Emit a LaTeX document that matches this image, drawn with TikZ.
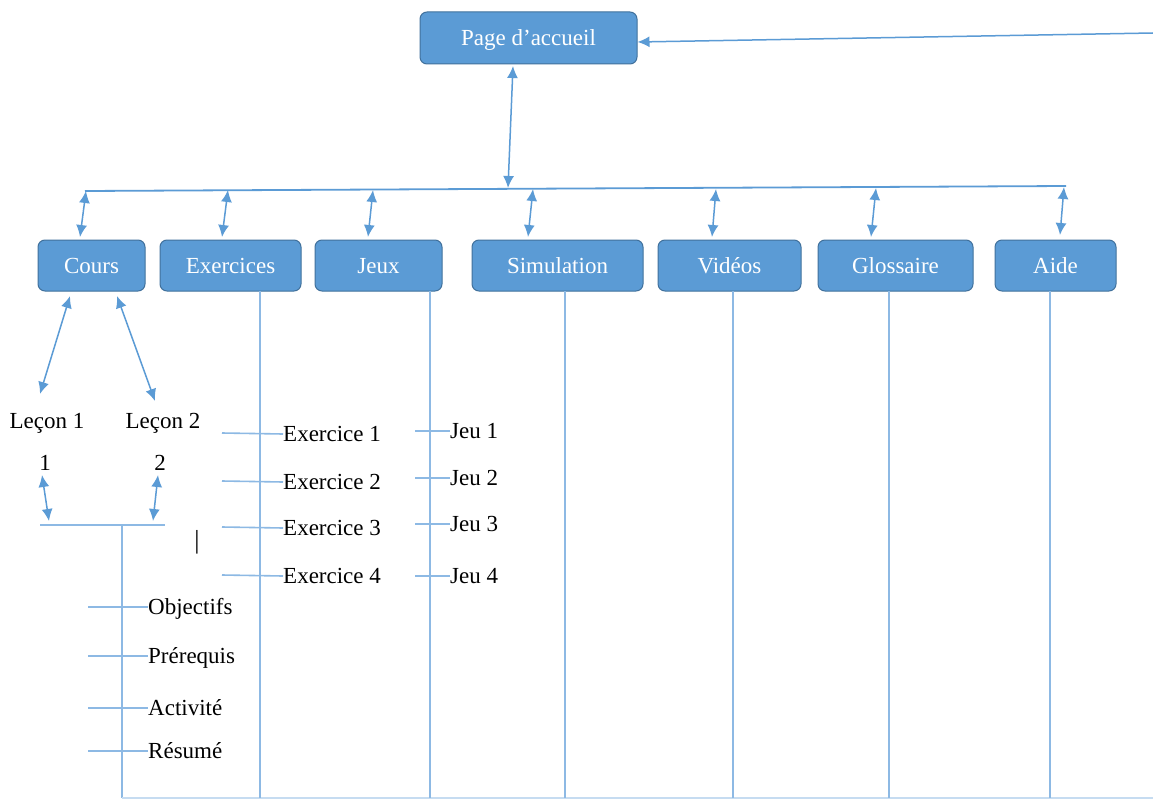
\documentclass[tikz,border=0pt]{standalone}
\usepackage{fontspec}
\setmainfont{Liberation Serif}
\usetikzlibrary{arrows.meta}
\definecolor{boxfill}{HTML}{5B9BD5}
\definecolor{boxedge}{HTML}{41719C}
\definecolor{wire}{HTML}{5B9BD5}
\definecolor{stem}{HTML}{8DB9E4}
\tikzset{
  menubox/.style={draw=boxedge, line width=1pt, fill=boxfill, rounded corners=7pt,
    text=white, font=\fontsize{23}{27}\selectfont, inner sep=0pt, minimum height=51pt,
    text height=19pt, text depth=4pt},
  itemtext/.style={font=\fontsize{23}{27}\selectfont, inner sep=0pt, text=black,
    text height=19pt, text depth=4pt},
  link/.style={draw=wire, line width=1.5pt, {Latex[length=12pt,width=11pt]}-{Latex[length=12pt,width=11pt]}},
  feed/.style={draw=wire, line width=1.5pt, -{Latex[length=12pt,width=11pt]}},
  busline/.style={draw=wire, line width=1.8pt},
  stemline/.style={draw=stem, line width=1.6pt},
}
\begin{document}
\begin{tikzpicture}[x=1pt,y=-1pt]
\useasboundingbox[fill=white] (0,0) rectangle (1153,800);

% home page and menu entries
\node[menubox, minimum width=217pt, minimum height=52pt] (home) at (528.5,38) {Page d’accueil};
\node[menubox, minimum width=107pt] (cours) at (91.5,265.5) {Cours};
\node[menubox, minimum width=141pt] (exo)   at (230.5,265.5) {Exercices};
\node[menubox, minimum width=127pt] (jeux)  at (378.5,265.5) {Jeux};
\node[menubox, minimum width=171pt] (simu)  at (557.5,265.5) {Simulation};
\node[menubox, minimum width=143pt] (video) at (729.5,265.5) {Vidéos};
\node[menubox, minimum width=155pt] (gloss) at (895.5,265.5) {Glossaire};
\node[menubox, minimum width=121pt] (aide)  at (1055.5,265.5) {Aide};

% return link into the home page
\coordinate (back) at (1153,33);
\draw[feed] (back) -- ([yshift=-4pt]home.east);

% distribution bus
\coordinate (busL) at (85,191);
\coordinate (busR) at (1066,186);
\draw[busline] (busL) -- (busR);
\coordinate (hTop) at (513,66);
\coordinate (hBus) at (508,188);
\draw[link] (hTop) -- (hBus);

% bus to each menu entry
\foreach \tx/\ty/\bx/\by/\n in {86/191/80/237/a, 228/190/222/237/b, 373/190/368/237/c,
    533/189/528/237/d, 716/189/712/237/e, 876/188/871/237/f, 1064/187/1060/235/g}{
  \coordinate (t\n) at (\tx,\ty);
  \coordinate (u\n) at (\bx,\by);
  \draw[link] (t\n) -- (u\n);
}

% lessons under Cours
\coordinate (cA) at (70,296);
\coordinate (cB) at (117,296);
\node[itemtext] (lec1) at (47,421) {Leçon 1};
\node[itemtext] (lec2) at (163,421) {Leçon 2};
\coordinate (l1) at (40,394);
\coordinate (l2) at (155,401);
\draw[link] (cA) -- (l1);
\draw[link] (cB) -- (l2);
\node[itemtext] (n1) at (45,463) {1};
\node[itemtext] (n2) at (160,463) {2};
\coordinate (m1t) at (42,475);
\coordinate (m1b) at (49,521);
\coordinate (m2t) at (158,475);
\coordinate (m2b) at (153,521);
\draw[link] (m1t) -- (m1b);
\draw[link] (m2t) -- (m2b);
\coordinate (jL) at (40,525);
\coordinate (jR) at (165,525);
\draw[stemline] (jL) -- (jR);
\coordinate (jM) at (122,525);
\coordinate (bot0) at (122,798);
\coordinate (botR) at (1153,798);
\draw[stemline] (jM) -- (bot0);
\draw[stem!50, line width=1.2pt] (bot0) -- (botR);

\node[font=\fontsize{26}{28}\selectfont, inner sep=0pt] (bar) at (197,542) {|};

% lesson sections
\foreach \y/\t/\n in {607/Objectifs/o1, 656/Prérequis/o2, 708/Activité/o3, 751/Résumé/o4}{
  \node[itemtext, anchor=west] (\n) at (148,\y) {\t};
  \coordinate (\n s) at (88,\y);
  \draw[stemline] (\n s) -- (\n.west);
}

% vertical stems from each menu entry
\foreach \x/\n in {260/exo, 430/jeux, 565/simu, 733/video, 889/gloss, 1050/aide}{
  \coordinate (\n top) at (\x,291);
  \coordinate (\n bot) at (\x,798);
  \draw[stemline] (\n top) -- (\n bot);
}

% exercises
\foreach \y/\k in {433/1, 481/2, 527/3, 575/4}{
  \node[itemtext, anchor=west] (ex\k) at (283,\y+1) {Exercice \k};
  \coordinate (ex\k s) at (222,\y);
  \draw[stemline] (ex\k s) -- (ex\k.west);
}

% games
\foreach \y/\k in {431/1, 478/2, 524/3, 576/4}{
  \node[itemtext, anchor=west] (jeu\k) at (450,\y) {Jeu \k};
  \coordinate (jeu\k s) at (415,\y);
  \draw[stemline] (jeu\k s) -- (jeu\k.west);
}
\end{tikzpicture}
\end{document}
